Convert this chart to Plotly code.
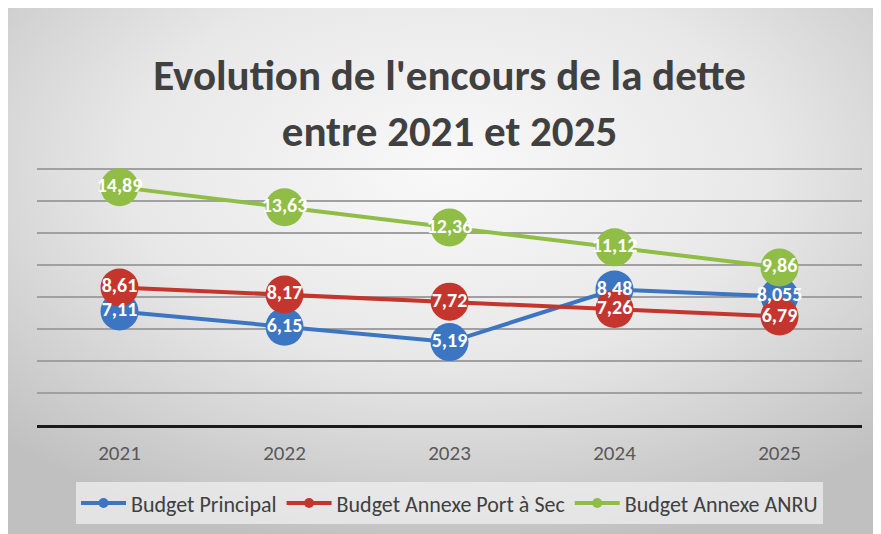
import base64
import plotly.graph_objects as go

years = ["2021", "2022", "2023", "2024", "2025"]
budget_principal = [7.11, 6.15, 5.19, 8.48, 8.055]
port_a_sec = [8.61, 8.17, 7.72, 7.26, 6.79]
anru = [14.89, 13.63, 12.36, 11.12, 9.86]
series_names = ["Budget Principal", "Budget Annexe Port à Sec", "Budget Annexe ANRU"]
series_values = [budget_principal, port_a_sec, anru]
colors = ["#3c75c2", "#c4352e", "#8fbd45"]

FONT = "Carlito, Lato, Roboto, sans-serif"

def fmt(v):
    return ("%g" % v).replace(".", ",")

fig = go.Figure()

for name, vals, col in zip(series_names, series_values, colors):
    fig.add_trace(go.Scatter(
        x=years, y=vals, mode="lines+markers", showlegend=False,
        line=dict(color=col, width=4),
        marker=dict(size=38, color=col),
        hoverinfo="skip",
    ))
for name, vals, col in zip(series_names, series_values, colors):
    fig.add_trace(go.Scatter(
        x=years, y=vals, mode="text", showlegend=False,
        text=[fmt(v) for v in vals], textposition="middle center",
        textfont=dict(family=FONT, size=20, color="white", weight="bold"),
        hoverinfo="skip",
    ))
for name, vals, col in zip(series_names, series_values, colors):
    fig.add_trace(go.Scatter(
        x=[None], y=[None], mode="lines+markers", name=name,
        line=dict(color=col, width=4),
        marker=dict(size=10, color=col),
    ))

W, H = 881, 534
ML, MR, MT, MB = 29, 27, 159, 117
PW, PH = W - ML - MR, H - MT - MB

svg = ("<svg xmlns='http://www.w3.org/2000/svg' width='881' height='534' preserveAspectRatio='none'>"
       "<defs><radialGradient id='g' cx='50%' cy='30%' r='72%'>"
       "<stop offset='0' stop-color='#f9f9f9'/><stop offset='0.5' stop-color='#e8e8e8'/>"
       "<stop offset='1' stop-color='#c0c0c0'/></radialGradient></defs>"
       "<rect width='881' height='534' fill='url(#g)'/></svg>")
src = "data:image/svg+xml;base64," + base64.b64encode(svg.encode()).decode()

fig.add_layout_image(dict(
    source=src, xref="paper", yref="paper",
    x=-ML / PW, y=1 + MT / PH, sizex=W / PW, sizey=H / PH,
    sizing="stretch", layer="below", xanchor="left", yanchor="top",
))

fig.update_layout(
    width=W, height=H,
    margin=dict(l=ML, r=MR, t=MT, b=MB),
    paper_bgcolor="#dcdcdc", plot_bgcolor="rgba(0,0,0,0)",
    title=dict(
        text="Evolution de l'encours de la dette<br>entre 2021 et 2025",
        x=0.5, xref="paper", xanchor="center",
        y=1 - 82 / H, yref="container", yanchor="top",
        font=dict(family=FONT, size=43, color="#404040", weight="bold"),
    ),
    xaxis=dict(
        type="category", range=[-0.5, 4.5], showgrid=False,
        showline=True, linecolor="#1a1a1a", linewidth=3,
        ticks="", ticklabelstandoff=7,
        tickfont=dict(family=FONT, size=21, color="#595959"),
    ),
    yaxis=dict(
        range=[0, 16.15], dtick=2, showticklabels=False, zeroline=False,
        showgrid=True, gridcolor="#a0a0a0", gridwidth=2,
    ),
    legend=dict(
        orientation="h", x=0.5, xanchor="center", y=-0.222, yanchor="top",
        bgcolor="rgba(242,242,242,0.7)",
        font=dict(family=FONT, size=22, color="#404040"),
        itemwidth=45,
    ),
)

fig.write_html("out.html")
